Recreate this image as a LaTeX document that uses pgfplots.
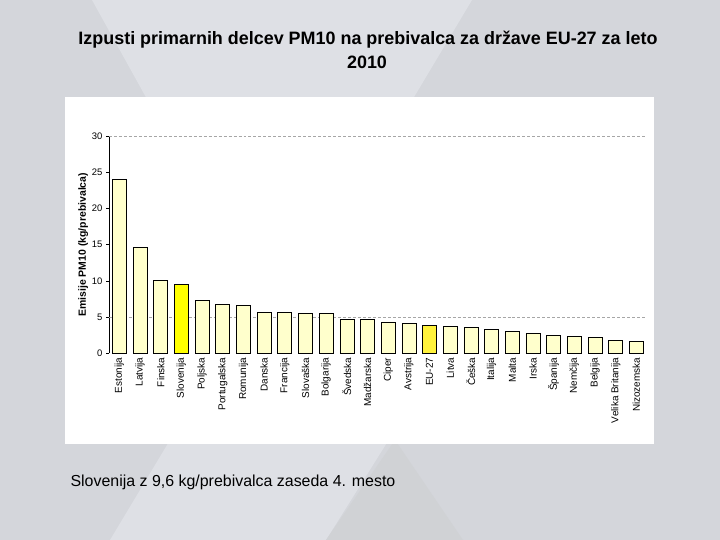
\documentclass[border=0pt]{standalone}
\usepackage{fontspec}
\setmainfont{Liberation Sans}
\usepackage{pgfplots}
\pgfplotsset{compat=1.18}

\definecolor{bgbase}{HTML}{D4D6DB}
\definecolor{bglight}{HTML}{DEE0E5}
\definecolor{bgdark}{HTML}{D0D2D5}
\definecolor{barlight}{HTML}{FFFFCC}
\definecolor{barslo}{HTML}{FFFF00}
\definecolor{bareu}{HTML}{FFF23C}

\begin{document}
\begin{tikzpicture}[x=1bp,y=1bp]
% slide background
\fill[bgbase] (0,0) rectangle (720,540);
\fill[bglight] (92,540) -- (472,540) -- (275,210) -- cycle;
\fill[bglight] (110,0) -- (326,0) -- (420,150) -- (200,150) -- cycle;
\fill[bgdark] (326,0) -- (463,0) -- (395,100) -- cycle;
\fill[white] (65,96) rectangle (654,443);
\useasboundingbox (0,0) rectangle (720,540);

\node[font=\fontsize{18}{22}\selectfont\bfseries, anchor=base] at (368,495)
  {Izpusti primarnih delcev PM10 na prebivalca za države EU-27 za leto};
\node[font=\fontsize{18}{22}\selectfont\bfseries, anchor=base] at (367,471) {2010};
\node[font=\fontsize{16}{18}\selectfont, anchor=base west] at (67,53)
  {Slovenija z 9,6 kg/prebivalca zaseda 4. mesto};

\begin{axis}[at={(109bp,186.5bp)}, anchor=south west, scale only axis,
  width=537.7bp, height=217.5bp,
  ybar, xmin=-0.5, xmax=25.5, ymin=0, ymax=30,
  axis lines=left, axis line style={-}, x axis line style={draw=none},
  xtick={0,...,25},
  xticklabels={Estonija,Latvija,Finska,Slovenija,Poljska,Portugalska,Romunija,Danska,Francija,Slovaška,Bolgarija,Švedska,Madžarska,Ciper,Avstrija,EU-27,Litva,Češka,Italija,Malta,Irska,Španija,Nemčija,Belgija,Velika Britanija,Nizozemska},
  xtick style={draw=none},
  xticklabel style={rotate=90, anchor=east, font=\fontsize{10}{10}\selectfont, inner sep=1bp},
  ytick={0,5,...,30}, tick align=outside, major tick length=3bp,
  ytick style={black, line width=0.5bp},
  yticklabel style={font=\fontsize{9.5}{9.5}\selectfont},
  /pgf/number format/assume math mode=true,
  extra y ticks={5,30}, extra y tick labels={},
  extra y tick style={grid=major, major tick length=0pt,
    major grid style={densely dashed, black!35, line width=0.6bp}},
  ylabel={Emisije PM10 (kg/prebivalca)},
  ylabel style={font=\bfseries\fontsize{10.5}{10.5}\selectfont, yshift=-6bp},
  clip=false]
\addplot[bar shift=0pt, bar width=14bp, fill=barlight, draw=black, line width=0.6bp] coordinates {
 (0,24.0) (1,14.6) (2,10.1) (4,7.3) (5,6.8) (6,6.65) (7,5.7) (8,5.7) (9,5.55) (10,5.55)
 (11,4.7) (12,4.7) (13,4.35) (14,4.15) (16,3.75) (17,3.55) (18,3.35) (19,3.05) (20,2.8)
 (21,2.45) (22,2.35) (23,2.25) (24,1.85) (25,1.7)};
\addplot[bar shift=0pt, bar width=14bp, fill=barslo, draw=black, line width=0.6bp] coordinates {(3,9.6)};
\addplot[bar shift=0pt, bar width=14bp, fill=bareu, draw=black, line width=0.6bp] coordinates {(15,3.9)};
\end{axis}
\end{tikzpicture}
\end{document}
